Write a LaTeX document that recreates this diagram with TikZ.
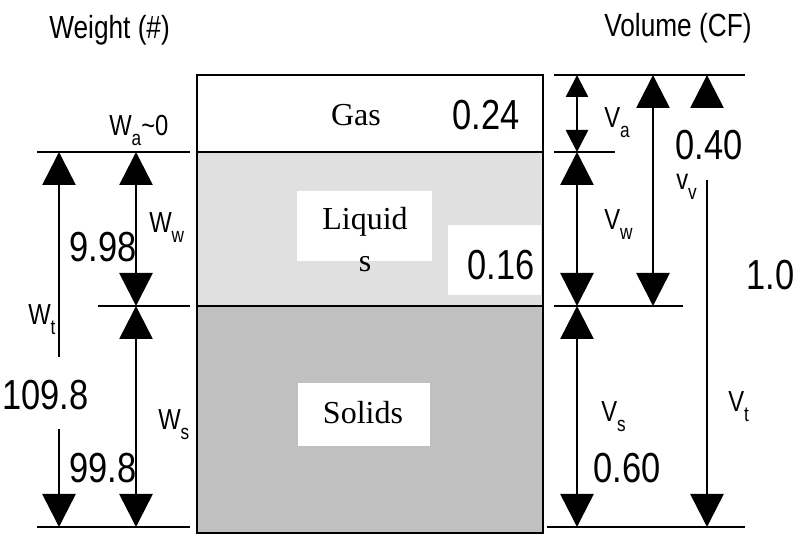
\documentclass[tikz,border=0pt]{standalone}
\usepackage{fontspec}
\setmainfont{Liberation Serif}
\newfontfamily\narrowsans[FakeStretch=0.82]{Liberation Sans}
\usetikzlibrary{arrows.meta}
\definecolor{liquidfill}{HTML}{E0E0E0}
\definecolor{solidfill}{HTML}{C0C0C0}
\newcommand{\lowsub}[1]{\raisebox{-10pt}{\fontsize{21}{21}\selectfont #1}}

\begin{document}
\begin{tikzpicture}[x=1pt, y=-1pt, line width=2.6pt, >={Triangle[length=33pt,width=33pt]},
  num/.style={font=\narrowsans\fontsize{42}{42}\selectfont, inner sep=0pt},
  lbl/.style={font=\narrowsans\fontsize{29}{29}\selectfont, inner sep=0pt},
  head/.style={font=\narrowsans\fontsize{32}{32}\selectfont, inner sep=0pt},
  phase/.style={font=\fontsize{32}{32}\selectfont, inner sep=0pt}]
  \useasboundingbox (0,0) rectangle (793,534);
  % levels of the phase diagram
  \coordinate (top) at (0,75);
  \coordinate (gasline) at (0,152);
  \coordinate (liqline) at (0,306);
  \coordinate (botline) at (0,527);

  % phases
  \fill[white] (197,75) rectangle (543,152);
  \fill[liquidfill] (197,152) rectangle (543,306);
  \fill[solidfill] (197,306) rectangle (543,533);
  \fill[white] (297,191) rectangle (432,261);
  \fill[white] (448,225) rectangle (541,295);
  \fill[white] (298,383) rectangle (430,446);
  \draw[line width=2pt] (197,75) rectangle (543,533);
  \draw[line width=2pt] (197,0 |- gasline) -- (543,0 |- gasline);
  \draw[line width=2pt] (197,0 |- liqline) -- (543,0 |- liqline);

  \node[phase, anchor=base] (gas) at (356,126) {Gas};
  \node[num, anchor=base] (gasval) at (486,130) {0.24};
  \node[phase, anchor=base] (liq1) at (365,230) {Liquid};
  \node[phase, anchor=base] (liq2) at (365,272) {s};
  \node[num, anchor=base] (liqval) at (501,280) {0.16};
  \node[phase, anchor=base] (solids) at (363,424) {Solids};

  \node[head, anchor=base west] (weight) at (48,39) {Weight (\#)};
  \node[head, anchor=base west] (volume) at (603,37) {Volume (CF)};

  % weights
  \draw (37,0 |- gasline) -- (190,0 |- gasline);
  \draw (98,0 |- liqline) -- (190,0 |- liqline);
  \draw (37,0 |- botline) -- (190,0 |- botline);
  \draw[<-] (59,0 |- gasline) -- (59,357);
  \draw[->] (59,429) -- (59,0 |- botline);
  \draw[<->] (136,0 |- gasline) -- (136,0 |- liqline);
  \draw[<->] (136,0 |- liqline) -- (136,0 |- botline);

  \node[lbl, anchor=base west] (wa) at (108,136) {W\lowsub{a}\textasciitilde 0};
  \node[lbl, anchor=base west] (ww) at (148,233) {W\lowsub{w}};
  \node[num, anchor=base east] (wwval) at (138,262) {9.98};
  \node[lbl, anchor=base west] (wt) at (27,325) {W\lowsub{t}};
  \node[num, anchor=base west] (wtval) at (1,410) {109.8};
  \node[lbl, anchor=base west] (ws) at (157,430) {W\lowsub{s}};
  \node[num, anchor=base east] (wsval) at (138,483) {99.8};

  % volumes
  \draw (554,0 |- top) -- (745,0 |- top);
  \draw (554,0 |- gasline) -- (615,0 |- gasline);
  \draw (554,0 |- liqline) -- (683,0 |- liqline);
  \draw (547,0 |- botline) -- (745,0 |- botline);
  \draw[{Triangle[length=22pt,width=22pt]}-{Triangle[length=22pt,width=22pt]}] (577,0 |- top) -- (577,0 |- gasline);
  \draw[<->] (577,0 |- gasline) -- (577,0 |- liqline);
  \draw[<->] (577,0 |- liqline) -- (577,0 |- botline);
  \draw[<->] (653,0 |- top) -- (653,0 |- liqline);
  \draw[<-] (707,0 |- top) -- (707,108);
  \draw[->] (707,180) -- (707,0 |- botline);

  \node[lbl, anchor=base west] (va) at (603,128) {V\lowsub{a}};
  \node[lbl, anchor=base west] (vw) at (603,230) {V\lowsub{w}};
  \node[num, anchor=base east] (vvval) at (744,160) {0.40};
  \node[lbl, anchor=base west] (vv) at (675,190) {v\lowsub{v}};
  \node[num, anchor=base west] (vtval) at (745,290) {1.0};
  \node[lbl, anchor=base west] (vt) at (727,412) {V\lowsub{t}};
  \node[lbl, anchor=base west] (vs) at (600,422) {V\lowsub{s}};
  \node[num, anchor=base west] (vsval) at (592,483) {0.60};
\end{tikzpicture}
\end{document}
